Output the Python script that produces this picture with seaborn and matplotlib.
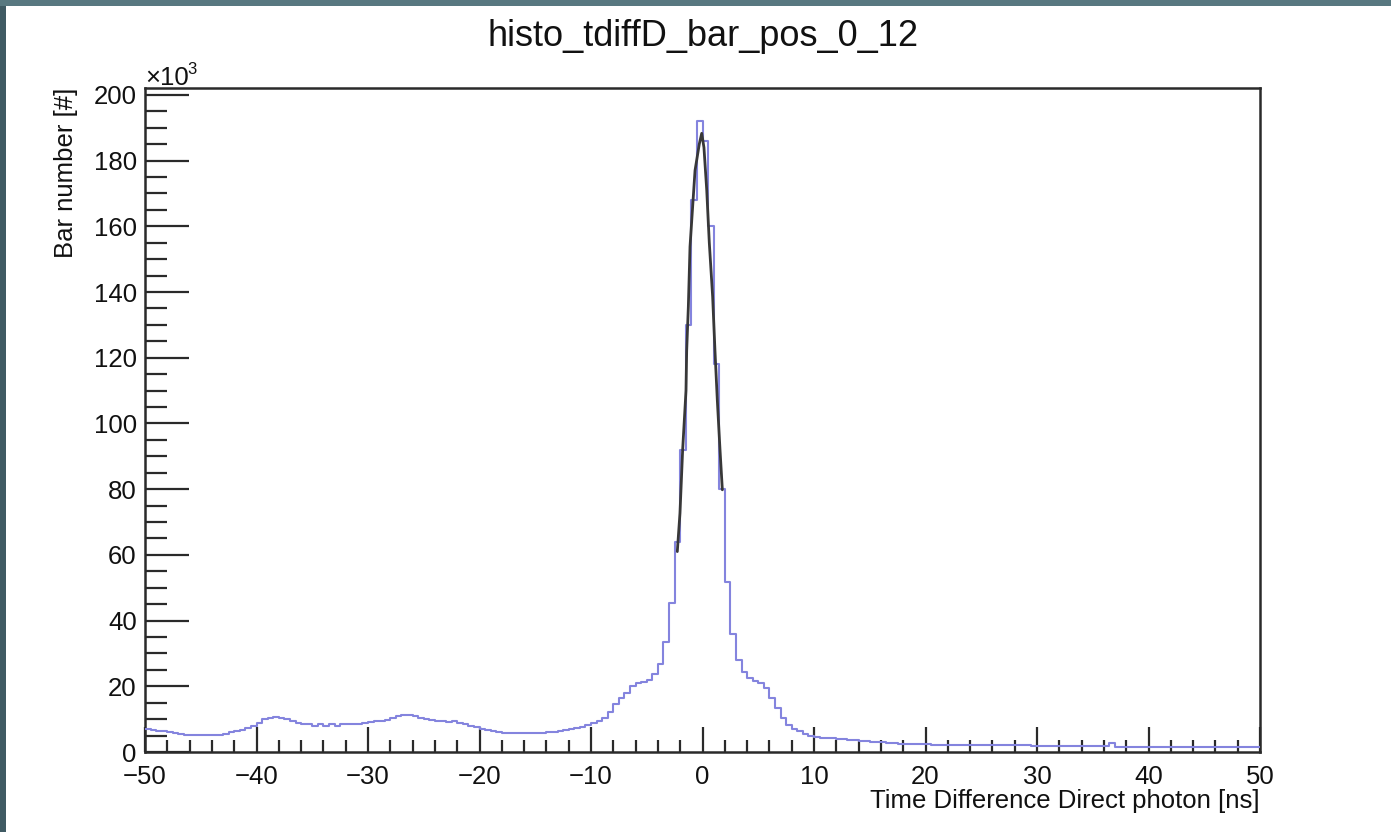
import numpy as np
import pandas as pd
import matplotlib
matplotlib.use("Agg")
import matplotlib.pyplot as plt
import seaborn as sns
from matplotlib.patches import Rectangle

# ---------------- data (counts in units of 10^3, 0.5 ns bins from -50 to 50) ----------------
bin_lo = -50.0
bin_hi = 50.0
bin_width = 0.5
counts_left = [  # bins starting at -50.0 ... -0.5
    6.9, 6.7, 6.5, 6.3, 6.0, 5.8, 5.5, 5.2, 5.1, 5.1,
    5.1, 5.1, 5.1, 5.2, 5.6, 6.0, 6.3, 6.7, 7.3, 8.0,
    8.8, 9.9, 10.2, 10.6, 10.5, 10.0, 9.5, 8.9, 8.5, 8.4,
    8.0, 8.5, 7.9, 8.5, 8.0, 8.4, 8.5, 8.5, 8.6, 8.9,
    9.0, 9.3, 9.5, 9.8, 10.4, 11.0, 11.2, 11.2, 11.0, 10.4,
    10.1, 9.8, 9.5, 9.4, 9.0, 9.4, 8.9, 8.5, 8.0, 7.5,
    7.0, 6.6, 6.3, 6.0, 5.9, 5.9, 5.9, 5.9, 5.9, 5.9,
    5.9, 5.9, 6.0, 6.1, 6.3, 6.6, 7.0, 7.3, 7.7, 8.2,
    8.7, 9.4, 10.5, 12.3, 14.5, 16.5, 18.0, 20.0, 20.9, 21.2,
    22.0, 23.7, 26.8, 33.4, 45.5, 64.0, 92.0, 130.0, 168.0, 192.0,
]
counts_right = [  # bins starting at 0.0 ... 49.5
    186.0, 160.0, 118.0, 80.0, 51.8, 36.0, 28.0, 24.4, 22.4, 21.5,
    21.0, 19.5, 16.3, 13.3, 10.4, 8.3, 7.0, 6.3, 5.5, 4.9,
    4.6, 4.4, 4.3, 4.2, 4.1, 3.9, 3.8, 3.6, 3.5, 3.2,
    3.1, 3.0, 2.9, 2.8, 2.6, 2.5, 2.5, 2.4, 2.4, 2.3,
    2.3, 2.2, 2.2, 2.2, 2.1, 2.1, 2.1, 2.1, 2.1, 2.1,
    2.1, 2.1, 2.1, 2.1, 2.1, 2.1, 2.1, 2.1, 2.1, 1.7,
    1.9, 1.9, 1.9, 1.9, 1.9, 1.9, 1.9, 1.9, 1.9, 1.9,
    1.9, 1.9, 1.9, 2.6, 1.6, 1.6, 1.6, 1.6, 1.6, 1.6,
    1.5, 1.5, 1.5, 1.5, 1.5, 1.5, 1.5, 1.5, 1.5, 1.5,
    1.4, 1.4, 1.4, 1.4, 1.4, 1.4, 1.4, 1.4, 1.4, 1.4,
]
fit_x = [-2.26, -2.02, -1.78, -1.48, -1.42, -1.27, -1.12, -0.67, -0.29, -0.07,
         0.13, 0.38, 0.61, 0.91, 1.12, 1.33, 1.57, 1.78]
fit_y = [61.0, 72.7, 92.0, 110.0, 122.0, 135.5, 153.8, 177.0, 185.0, 188.3,
         184.0, 171.0, 155.0, 138.6, 122.0, 107.0, 92.0, 79.8]

title = "histo_tdiffD_bar_pos_0_12"
xlabel = "Time Difference Direct photon [ns]"
ylabel = "Bar number [#]"
xticks_major = [-50, -40, -30, -20, -10, 0, 10, 20, 30, 40, 50]
yticks_major = [0, 20, 40, 60, 80, 100, 120, 140, 160, 180, 200]

# ---------------- build table ----------------
n_bins = len(counts_left) + len(counts_right)
centers = bin_lo + bin_width * (np.arange(n_bins) + 0.5)
counts = counts_left + counts_right
df = pd.DataFrame({"t": centers, "n": counts})
fit_df = pd.DataFrame({"t": fit_x, "n": fit_y})

# ---------------- figure ----------------
sns.set_theme(style="white")
plt.rcParams["font.family"] = ["Liberation Sans", "DejaVu Sans"]

W, H = 1391, 832
fig = plt.figure(figsize=(W / 100, H / 100), dpi=100, facecolor="white")
# dark window background strips (left and top)
fig.patches.append(Rectangle((0, 0), 6 / W, 1, transform=fig.transFigure,
                             facecolor="#3f5a63", edgecolor="none", zorder=-5))
fig.patches.append(Rectangle((0, 1 - 6 / H), 1, 6 / H, transform=fig.transFigure,
                             facecolor="#587880", edgecolor="none", zorder=-5))

ax = fig.add_axes([145 / W, 1 - 752 / H, (1260 - 145) / W, (752 - 88) / H])
ax.set_facecolor("white")

sns.histplot(data=df, x="t", weights="n", binwidth=bin_width, binrange=(bin_lo, bin_hi),
             element="step", fill=False, color="#8484de", linewidth=1.5, ax=ax, zorder=3)
sns.lineplot(data=fit_df, x="t", y="n", color="#383838", linewidth=2.0, ax=ax,
             zorder=4, sort=False, estimator=None)

ax.set_xlim(-50, 50)
ax.set_ylim(0, 202.1)
ax.set_xticks(xticks_major)
ax.set_xticklabels([("\u2212%d" % -v) if v < 0 else "%d" % v for v in xticks_major])
ax.set_yticks(yticks_major)
ax.set_yticklabels(["%d" % v for v in yticks_major])
ax.set_xticks(np.arange(-50, 51, 2), minor=True)
ax.set_yticks(np.arange(0, 201, 5), minor=True)

for s in ax.spines.values():
    s.set_color("#2a2a2a")
    s.set_linewidth(1.8)
    s.set_visible(True)

ax.tick_params(axis="x", which="major", direction="in", length=18, width=1.6,
               color="#2a2a2a", labelsize=18.5, pad=9, top=False, bottom=True)
ax.tick_params(axis="x", which="minor", direction="in", length=9, width=1.6,
               color="#2a2a2a", top=False, bottom=True)
ax.tick_params(axis="y", which="major", direction="in", length=32, width=1.6,
               color="#2a2a2a", labelsize=18.5, pad=6, right=False, left=True)
ax.tick_params(axis="y", which="minor", direction="in", length=16, width=1.6,
               color="#2a2a2a", right=False, left=True)
for lab in ax.get_xticklabels() + ax.get_yticklabels():
    lab.set_color("#111111")

ax.set_xlabel(xlabel, fontsize=18.5, color="#111111", loc="right")
ax.xaxis.set_label_coords(1.0, -0.056)
ax.set_ylabel(ylabel, fontsize=18.5, color="#111111", loc="top")
ax.yaxis.set_label_coords(-0.060, 1.0)

fig.text(703.5 / W, 1 - 37 / H, title, fontsize=26, ha="center", va="center", color="#111111")
fig.text(145 / W, 1 - 85 / H, "\u00d710", fontsize=18.5, ha="left", va="baseline",
         color="#111111")
fig.text(187 / W, 1 - 74 / H, "3", fontsize=12, ha="left", va="baseline",
         color="#111111")

fig.savefig("out.png", dpi=100, facecolor=fig.get_facecolor())
